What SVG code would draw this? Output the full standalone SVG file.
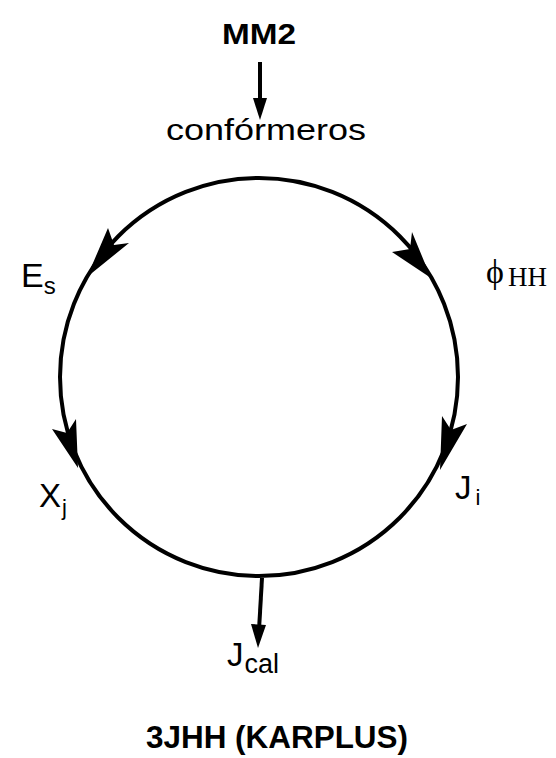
<svg xmlns="http://www.w3.org/2000/svg" width="556" height="758" viewBox="0 0 556 758">
<style>
.t{font-family:"Liberation Sans",Arial,sans-serif;fill:#000}
.s{font-family:"Liberation Serif","Times New Roman",serif;fill:#000}
.ln{stroke:#000;stroke-width:4;fill:none}
.ar{fill:#000}
</style>
<rect width="556" height="758" fill="#fff"/>
<g id="connectors">
<circle class="ln" cx="259" cy="377" r="199"/>
<line class="ln" x1="260" y1="62" x2="260" y2="104" stroke-width="3"/>
<path class="ar" d="M253,98 L267,98 L260,120 Z"/>
<line class="ln" x1="262" y1="578" x2="259" y2="630" stroke-width="3"/>
<path class="ar" d="M251,624 L266,625 L258,648 Z"/>
<path class="ar" d="M87,277 L108,228 L114,245 L129,243 Z"/>
<path class="ar" d="M431,278 L392,252 L410,249 L412,232 Z"/>
<path class="ar" d="M78,468 L52,429 L67,433 L76,419 Z"/>
<path class="ar" d="M440,470 L442,416 L451,430 L467,424 Z"/>
</g>
<g id="mm2"><text class="t" x="222" y="44" font-size="30" font-weight="bold" textLength="74" lengthAdjust="spacingAndGlyphs">MM2</text></g>
<g id="conformeros"><text class="t" x="166" y="140" font-size="30" textLength="200" lengthAdjust="spacingAndGlyphs">confórmeros</text></g>
<g id="es"><text class="t" x="21" y="287" font-size="34">E<tspan font-size="24" dy="7">s</tspan></text></g>
<g id="phi"><text class="s" x="486" y="283" font-size="34">ϕ<tspan font-size="27" dx="4" dy="3">HH</tspan></text></g>
<g id="xj"><text class="t" x="39" y="507" font-size="33">X<tspan font-size="22" dx="1" dy="8">j</tspan></text></g>
<g id="ji"><text class="t" x="455" y="499" font-size="33">J<tspan font-size="22" dx="4" dy="6">i</tspan></text></g>
<g id="jcal"><text class="t" x="227" y="666" font-size="33">J<tspan font-size="27" dx="1" dy="7">cal</tspan></text></g>
<g id="title"><text class="t" x="146" y="748" font-size="32" font-weight="bold" textLength="262" lengthAdjust="spacingAndGlyphs">3JHH (KARPLUS)</text></g>
</svg>
